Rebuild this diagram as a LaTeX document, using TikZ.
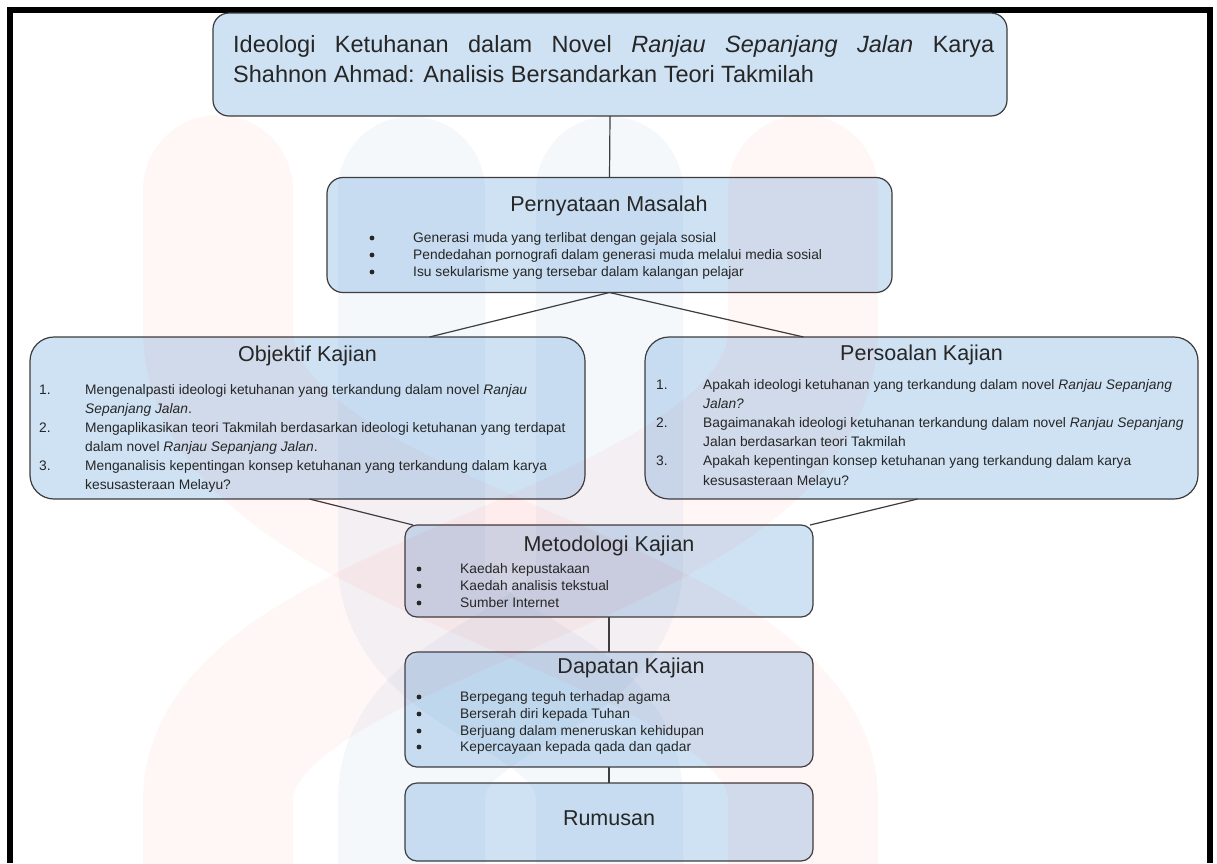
\documentclass[tikz,border=0pt]{standalone}
\usepackage{fontspec}
\setmainfont{Liberation Sans}
\definecolor{boxfill}{HTML}{CFE2F3}
\definecolor{boxline}{HTML}{3C3C3C}
\definecolor{wmpink}{RGB}{255,0,0}
\definecolor{wmblue}{RGB}{55,125,185}
\definecolor{txt}{HTML}{262626}
\newcommand{\fTitle}{\fontsize{23.5}{30}\selectfont}
\newcommand{\fHead}{\fontsize{21.5}{26}\selectfont}
\newcommand{\fBody}{\fontsize{13.8}{17}\selectfont}
\begin{document}
\begin{tikzpicture}[x=1pt,y=-1pt,
  box/.style={draw=boxline, fill=boxfill, line width=1.2pt, inner sep=0pt, outer sep=0pt},
  conn/.style={draw=boxline, line width=1.2pt},
  wmp/.style={draw=wmpink, draw opacity=0.035, line width=150pt, line cap=round},
  wmb/.style={draw=wmblue, draw opacity=0.05, line width=147pt, line cap=round},
  head/.style={font=\fHead, text=txt, anchor=base, inner sep=0pt},
  body/.style={font=\fBody, text=txt, anchor=base west, inner sep=0pt},
  ttl/.style={font=\fTitle, text=txt, anchor=base west, inner sep=0pt},
  bul/.style={fill=txt}]
\useasboundingbox (0,0) rectangle (1217,863);
\fill[white] (0,0) rectangle (1217,863);
% frame
\fill[black] (7,7) rectangle (1213,13);
\fill[black] (7,13) rectangle (13,863);
\fill[black] (1207,13) rectangle (1213,863);

% boxes
\node[box, rounded corners=16pt, minimum width=794pt, minimum height=103pt] (tb) at (610,64.5) {};
\node[box, rounded corners=16pt, minimum width=565pt, minimum height=115pt] (pm) at (609.5,235) {};
\node[box, rounded corners=24pt, minimum width=555pt, minimum height=162pt] (obj) at (307.5,418) {};
\node[box, rounded corners=24pt, minimum width=553pt, minimum height=162pt] (pk) at (921.5,418) {};
\node[box, rounded corners=12pt, minimum width=408pt, minimum height=92pt] (met) at (609,571) {};
\node[box, rounded corners=12pt, minimum width=408pt, minimum height=115pt] (dap) at (609,709.5) {};
\node[box, rounded corners=12pt, minimum width=408pt, minimum height=78pt] (rum) at (609,822) {};

% connectors
\draw[conn] (tb.south) -- (pm.north);
\draw[conn] (pm.south) -- ([xshift=122pt]obj.north);
\draw[conn] (pm.south) -- ([xshift=-118pt]pk.north);
\draw[conn] ([xshift=2pt]obj.south) -- ([xshift=8pt]met.north west);
\draw[conn] ([xshift=-4pt]pk.south) -- ([xshift=-3pt]met.north east);
\draw[conn] (met.south) -- (dap.north);
\draw[conn] (dap.south) -- (rum.north);

% watermark
\draw[wmb] (411.5,190) -- (411.5,560) .. controls (411.5,680) and (609.5,680) .. (609.5,800) -- (609.5,950);
\draw[wmb] (609.5,190) -- (609.5,560) .. controls (609.5,680) and (411.5,680) .. (411.5,800) -- (411.5,950);
\draw[wmp] (218,190) -- (218,330) .. controls (218,560) and (803,600) .. (803,800) -- (803,950);
\draw[wmp] (803,190) -- (803,330) .. controls (803,560) and (218,600) .. (218,800) -- (218,950);

% title text
\node[ttl] (tl1) at (233,52) {\hbox to 761pt{Ideologi\hfill Ketuhanan\hfill dalam\hfill Novel\hfill \textit{Ranjau}\hfill \textit{Sepanjang}\hfill \textit{Jalan}\hfill Karya}};
\node[ttl] (tl2) at (233,82) {Shahnon Ahmad: Analisis Bersandarkan Teori Takmilah};

% Pernyataan Masalah
\node[head] (pmh) at (609,211) {Pernyataan Masalah};
\fill[bul] (372,238) circle (2.4pt);
\fill[bul] (372,255) circle (2.4pt);
\fill[bul] (372,272) circle (2.4pt);
\node[body] (pm1) at (413,242) {Generasi muda yang terlibat dengan gejala sosial};
\node[body] (pm2) at (413,259) {Pendedahan pornografi dalam generasi muda melalui media sosial};
\node[body] (pm3) at (413,276) {Isu sekularisme yang tersebar dalam kalangan pelajar};

% Objektif Kajian
\node[head] (objh) at (307.5,361) {Objektif Kajian};
\node[body] (on1) at (39,394) {1.};
\node[body] (ot1) at (85,394) {Mengenalpasti ideologi ketuhanan yang terkandung dalam novel \textit{Ranjau}};
\node[body] (ot1b) at (85,413) {\textit{Sepanjang Jalan}.};
\node[body] (on2) at (39,432) {2.};
\node[body] (ot2) at (85,432) {Mengaplikasikan teori Takmilah berdasarkan ideologi ketuhanan yang terdapat};
\node[body] (ot2b) at (85,451) {dalam novel \textit{Ranjau Sepanjang Jalan}.};
\node[body] (on3) at (39,470) {3.};
\node[body] (ot3) at (85,470) {Menganalisis kepentingan konsep ketuhanan yang terkandung dalam karya};
\node[body] (ot3b) at (85,489) {kesusasteraan Melayu?};

% Persoalan Kajian
\node[head] (pkh) at (921.5,360) {Persoalan Kajian};
\node[body] (pn1) at (656,389) {1.};
\node[body] (pt1) at (703,389) {Apakah ideologi ketuhanan yang terkandung dalam novel \textit{Ranjau Sepanjang}};
\node[body] (pt1b) at (703,408) {\textit{Jalan?}};
\node[body] (pn2) at (656,427) {2.};
\node[body] (pt2) at (703,427) {Bagaimanakah ideologi ketuhanan terkandung dalam novel \textit{Ranjau Sepanjang}};
\node[body] (pt2b) at (703,446) {Jalan berdasarkan teori Takmilah};
\node[body] (pn3) at (656,465) {3.};
\node[body] (pt3) at (703,465) {Apakah kepentingan konsep ketuhanan yang terkandung dalam karya};
\node[body] (pt3b) at (703,485) {kesusasteraan Melayu?};

% Metodologi Kajian
\node[head] (meth) at (609,551) {Metodologi Kajian};
\fill[bul] (419,569) circle (2.4pt);
\fill[bul] (419,586) circle (2.4pt);
\fill[bul] (419,603) circle (2.4pt);
\node[body] (m1) at (460,573) {Kaedah kepustakaan};
\node[body] (m2) at (460,590) {Kaedah analisis tekstual};
\node[body] (m3) at (460,607) {Sumber Internet};

% Dapatan Kajian
\node[head] (daph) at (631,673) {Dapatan Kajian};
\fill[bul] (419,697) circle (2.4pt);
\fill[bul] (419,714) circle (2.4pt);
\fill[bul] (419,731) circle (2.4pt);
\fill[bul] (419,747) circle (2.4pt);
\node[body] (d1) at (460,701) {Berpegang teguh terhadap agama};
\node[body] (d2) at (460,718) {Berserah diri kepada Tuhan};
\node[body] (d3) at (460,735) {Berjuang dalam meneruskan kehidupan};
\node[body] (d4) at (460,751) {Kepercayaan kepada qada dan qadar};

% Rumusan
\node[head] (rumh) at (609,825) {Rumusan};
\end{tikzpicture}
\end{document}
